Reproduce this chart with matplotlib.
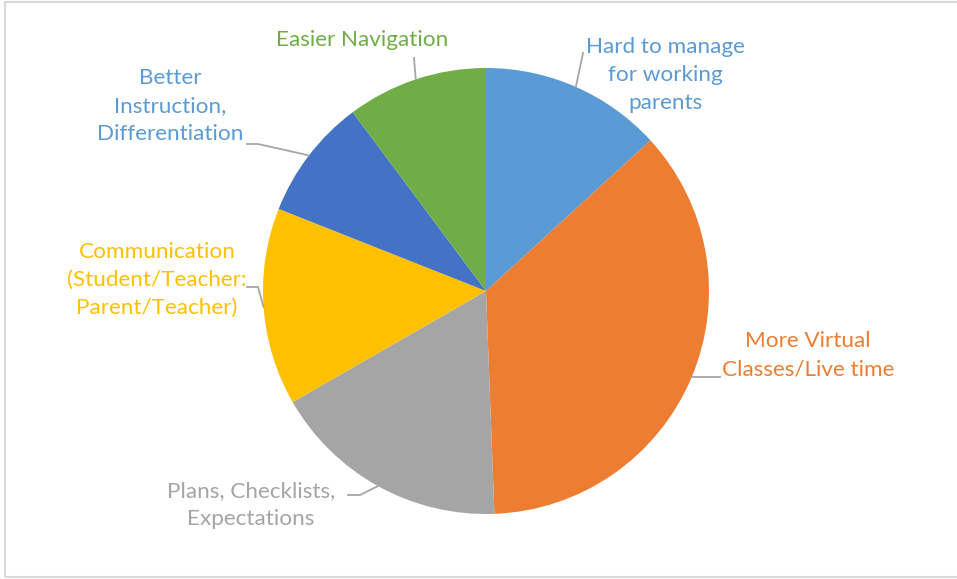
import numpy as np
import matplotlib.pyplot as plt
from matplotlib.patches import Rectangle

# slices clockwise from 12 o'clock
labels = ['Hard to manage\nfor working\nparents',
          'More Virtual\nClasses/Live time',
          'Plans, Checklists,\nExpectations',
          'Communication\n(Student/Teacher:\nParent/Teacher)',
          'Better\nInstruction,\nDifferentiation',
          'Easier Navigation']
values = [13.2, 36.2, 17.3, 14.3, 8.8, 10.2]
colors = ['#5B9BD5', '#ED7D31', '#A5A5A5', '#FFC000', '#4472C4', '#70AD47']
text_colors = ['#5B9BD5', '#ED7D31', '#A5A5A5', '#FFC000', '#5B9BD5', '#70AD47']

W, H = 957, 579
cx, cy, r = 486, H - 291, 223

fig = plt.figure(figsize=(W / 100, H / 100), dpi=100)
ax = fig.add_axes([0, 0, 1, 1])

wedges, _ = ax.pie(values, colors=colors, startangle=90, counterclock=False,
                   center=(cx, cy), radius=r, frame=True,
                   wedgeprops=dict(linewidth=0))
ax.set_xlim(0, W)
ax.set_ylim(0, H)
ax.set_aspect('equal')
ax.axis('off')

# label text centres (pixels from top) and leader elbows
label_pos = [(665, 75), (808, 355), (251, 505), (157, 280), (170, 106), (362, 40)]
elbows = [[(583, 53)],
          [(720, 377)],
          [(360, 495), (348, 495)],
          [(258, 287), (247, 287)],
          [(258, 144), (247, 144)],
          [(414, 58)]]

for w, lab, tc, (tx, ty), pts in zip(wedges, labels, text_colors, label_pos, elbows):
    ang = np.deg2rad((w.theta1 + w.theta2) / 2)
    ex, ey = cx + r * np.cos(ang), cy + r * np.sin(ang)
    xs = [ex] + [p[0] for p in pts]
    ys = [ey] + [H - p[1] for p in pts]
    ax.plot(xs, ys, color='#A6A6A6', lw=1.3, zorder=1)
    ax.text(tx, H - ty, lab, ha='center', va='center', color=tc,
            fontsize=16.2, family='Lato', linespacing=1.5)

ax.add_patch(Rectangle((5, 2), W, H - 4, fill=False, edgecolor='#D9D9D9', lw=1.5))

fig.savefig('out.png', dpi=100)
